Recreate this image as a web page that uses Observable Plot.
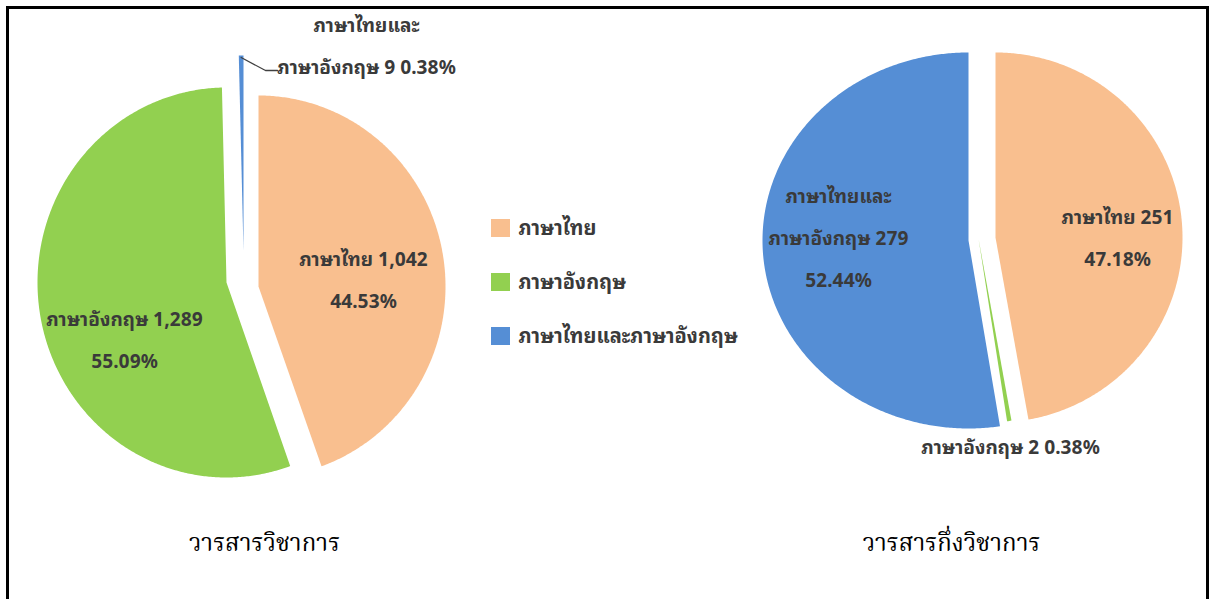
<!DOCTYPE html>
<html><head><meta charset="utf-8">
<script src="https://cdn.jsdelivr.net/npm/d3@7"></script>
<script src="https://cdn.jsdelivr.net/npm/@observablehq/plot@0.6"></script>
<style>
html,body{margin:0;padding:0;background:#fff;overflow:hidden;width:1216px;height:599px}
#chart{position:absolute;left:0;top:0}
#frame{position:absolute;left:6px;top:6px;width:1197px;height:700px;border:3px solid #000;border-bottom:none;pointer-events:none}
</style></head><body>
<div id="chart"></div><div id="frame"></div>
<script>
// ---- data ----
const categories = ["ภาษาไทย", "ภาษาอังกฤษ", "ภาษาไทยและภาษาอังกฤษ"];
const labelNames = ["ภาษาไทย", "ภาษาอังกฤษ", "ภาษาไทยและ\nภาษาอังกฤษ"];
const colors = ["#F9BF8F", "#92D050", "#558ED5"];
const academicCounts = [1042, 1289, 9];
const academicPercents = ["44.53%", "55.09%", "0.38%"];
const semiCounts = [251, 2, 279];
const semiPercents = ["47.18%", "0.38%", "52.44%"];
const pieTitles = ["วารสารวิชาการ", "วารสารกึ่งวิชาการ"];

// ---- font detection (system fonts only) ----
function pickFont(cands, fallback) {
  const ctx = document.createElement("canvas").getContext("2d");
  const s = "ภาษาไทยและภาษาอังกฤษ วารสารวิชาการ";
  ctx.font = "20px monospace"; const w0 = ctx.measureText(s).width;
  ctx.font = "20px serif"; const w00 = ctx.measureText(s).width;
  for (const f of cands) {
    ctx.font = `20px "${f}", monospace`; const w1 = ctx.measureText(s).width;
    ctx.font = `20px "${f}", serif`; const w2 = ctx.measureText(s).width;
    if (Math.abs(w1 - w0) > 0.5 || Math.abs(w2 - w00) > 0.5) return `"${f}", ${fallback}`;
  }
  return fallback;
}
const sansFont = pickFont(["Tahoma", "Noto Sans Thai Looped", "Loma", "Garuda", "Waree", "Umpush", "Sarabun", "Noto Sans Thai"], "sans-serif");
const serifFont = pickFont(["Angsana New", "Norasi", "Kinnari", "Laksaman", "Noto Serif Thai", "TH Sarabun New"], "serif");

// ---- layout: per-slice apex position and radii ----
const pies = [
  {counts: academicCounts, pcts: academicPercents, title: pieTitles[0],
   apex: [[258, 286], [226, 282], [243, 250]],
   rx: [187, 189, 195], ry: [191, 195, 195],
   labels: [{x: 363, y: 273, mode: "in"}, {x: 124, y: 333, mode: "in"}, {x: 366, y: 39, mode: "out", lx: 277, ly: 70}],
   titleX: 264},
  {counts: semiCounts, pcts: semiPercents, title: pieTitles[1],
   apex: [[995, 237], [978, 238], [968, 240]],
   rx: [187, 187, 206], ry: [185, 185, 188],
   labels: [{x: 1117, y: 231, mode: "in"}, {x: 1010, y: 440, mode: "out"}, {x: 838, y: 231, mode: "in"}],
   titleX: 951}
];

const fmt = d3.format(",");
const sliceMarks = [];
const texts = [];
const leaders = [];
pies.forEach((p) => {
  const arcs = d3.pie().sort(null).value(d => d)(p.counts);
  arcs.forEach((a, i) => {
    const mid = (a.startAngle + a.endAngle) / 2;
    const [ax, ay] = p.apex[i];
    const rx = p.rx[i], ry = p.ry[i];
    const pts = [{x: ax, y: ay}];
    const n = Math.max(4, Math.ceil((a.endAngle - a.startAngle) / (Math.PI / 360)));
    for (let k = 0; k <= n; k++) {
      const t = a.startAngle + (a.endAngle - a.startAngle) * k / n;
      pts.push({x: ax + rx * Math.sin(t), y: ay - ry * Math.cos(t)});
    }
    pts.push({x: ax, y: ay});
    sliceMarks.push(Plot.line(pts, {x: "x", y: "y", fill: colors[i], stroke: "none", curve: "linear"}));
    const L = p.labels[i];
    const txt = L.mode === "in"
      ? `${labelNames[i]} ${fmt(p.counts[i])}\n${p.pcts[i]}`
      : `${labelNames[i]} ${fmt(p.counts[i])} ${p.pcts[i]}`;
    texts.push({x: L.x, y: L.y, text: txt});
    if (L.lx !== undefined) {
      const rimX = ax + rx * Math.sin(mid), rimY = ay - ry * Math.cos(mid);
      leaders.push([{x: rimX, y: rimY + 2}, {x: L.lx - 12, y: L.ly}, {x: L.lx, y: L.ly}]);
    }
  });
});

const legendY = i => 228 + 54 * i;

const chart = Plot.plot({
  width: 1216, height: 599, margin: 0,
  x: {domain: [0, 1216], range: [0, 1216], axis: null},
  y: {domain: [0, 599], range: [0, 599], axis: null},
  style: {background: "transparent"},
  marks: [
    ...sliceMarks,
    ...leaders.map(l => Plot.line(l, {x: "x", y: "y", stroke: "#404040", strokeWidth: 1.3})),
    Plot.text(texts, {x: "x", y: "y", text: "text", fill: "#3a3a3a", fontSize: 19, fontWeight: "bold", lineHeight: 2.2, fontFamily: sansFont}),
    Plot.rect(categories, {x1: () => 491, x2: () => 510, y1: (d, i) => legendY(i) - 9, y2: (d, i) => legendY(i) + 9, fill: (d, i) => colors[i]}),
    Plot.text(categories, {x: () => 518, y: (d, i) => legendY(i), text: d => d, textAnchor: "start", fill: "#3a3a3a", fontSize: 20, fontWeight: "bold", fontFamily: sansFont}),
    Plot.text(pies, {x: "titleX", y: () => 543, text: "title", fill: "#000", fontSize: 24, fontFamily: serifFont})
  ]
});
document.getElementById("chart").appendChild(chart);
</script>
</body></html>
